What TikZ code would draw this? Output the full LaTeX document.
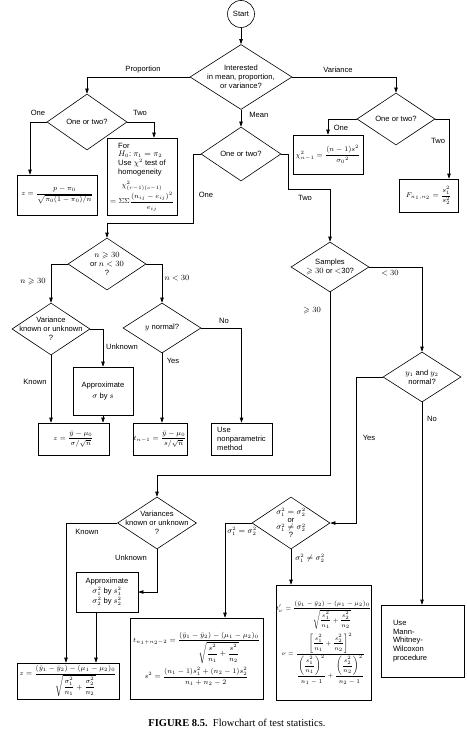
\documentclass[tikz,border=0pt]{standalone}
\usepackage{amsmath,amssymb}
\usepackage{fontspec}
\setmainfont{Liberation Sans}
\newfontfamily\capfont{Liberation Serif}
\usetikzlibrary{shapes.geometric,arrows.meta}
\begin{document}
\begin{tikzpicture}[x=1pt,y=-1pt,line width=0.6pt,
  every node/.style={font=\fontsize{7.6}{8.8}\selectfont},
  dia/.style={diamond,draw,inner sep=0pt,minimum width=78pt,minimum height=52pt},
  dtext/.style={align=center,inner sep=0pt},
  box/.style={draw,inner sep=0pt,align=center},
  lbl/.style={inner sep=0pt},
  arr/.style={-{Triangle[length=5pt,width=3.4pt]}},
  mathf/.style={font=\fontsize{7.2}{8.5}\selectfont},
  smallm/.style={font=\fontsize{6.4}{7.5}\selectfont}]
\useasboundingbox (0,0) rectangle (466,733);

% ---- nodes ----
\node[circle,draw,minimum size=27pt,inner sep=0pt] (start) at (241,14) {Start};
\node[dia,minimum width=102pt,minimum height=65pt] (d0) at (241,77) {};
\node[dtext] (d0t) at (d0) {Interested\\in mean, proportion,\\or variance?};

\node[dia,minimum width=80pt,minimum height=56pt] (dp) at (87,122) {};
\node[dtext] (dpt) at (dp) {One or two?};
\node[dia,minimum width=78pt,minimum height=52pt] (dv) at (396,119) {};
\node[dtext] (dvt) at (dv) {One or two?};
\node[dia,minimum width=80pt,minimum height=54pt] (dm) at (241,154) {};
\node[dtext] (dmt) at (dm) {One or two?};

\node[box,minimum width=80pt,minimum height=40pt,mathf] (zb1) at (57,195)
  {$z=\dfrac{p-\pi_0}{\sqrt{\pi_0(1-\pi_0)/n}}$};
\node[box,minimum width=70pt,minimum height=77pt] (forb) at (142,176.5)
  {\begin{tabular}{@{}l@{}}For\\ $H_0$:\ $\pi_1=\pi_2$\\ Use $\chi^2$ test of\\ homogeneity\end{tabular}\\[3pt]
   {\fontsize{6.6}{8}\selectfont$\chi^2_{(r-1)(c-1)}$}\\[1pt]
   {\fontsize{6.6}{8}\selectfont$=\Sigma\Sigma\dfrac{(n_{ij}-e_{ij})^2}{e_{ij}}$}};
\node[box,minimum width=70pt,minimum height=39pt,mathf] (chib) at (328,154.5)
  {$\chi^2_{n-1}=\dfrac{(n-1)s^2}{\sigma_0{}^2}$};
\node[box,minimum width=59pt,minimum height=33pt,mathf] (Fb) at (428.5,195.5)
  {$F_{n_1,n_2}=\dfrac{s_1^2}{s_2^2}$};

\node[dia] (dn) at (107,264) {};
\node[dtext] (dnt) at (dn) {$n\geqslant 30$\\or $n<30$\\?};
\node[dia] (dvk) at (51,329) {};
\node[dtext] (dvkt) at (dvk) {Variance\\known or unknown\\?};
\node[dia,minimum height=50pt] (dyn) at (162,328) {};
\node[dtext] (dynt) at (dyn) {$y$ normal?};
\node[box,minimum width=60pt,minimum height=48pt] (ap1) at (103,391) {Approximate\\[2pt]$\sigma$ by $s$};
\node[box,minimum width=71pt,minimum height=32pt,mathf] (zb2) at (73.5,439)
  {$z=\dfrac{\bar y-\mu_0}{\sigma/\sqrt{n}}$};
\node[box,minimum width=54pt,minimum height=32pt,mathf] (tb1) at (160,439)
  {$t_{n-1}=\dfrac{\bar y-\mu_0}{s/\sqrt{n}}$};
\node[box,minimum width=61pt,minimum height=32pt,align=left] (ub) at (241.5,439)
  {Use\\nonparametric\\method};

\node[dia,minimum height=50pt] (ds) at (330,267) {};
\node[dtext] (dst) at (ds) {Samples\\$\geqslant 30$ or $<$30?};
\node[dia,minimum height=50pt] (dy) at (422,377) {};
\node[dtext] (dyt) at (dy) {$y_1$ and $y_2$\\normal?};

\node[dia,minimum width=79pt] (dvv) at (157,523) {};
\node[dtext] (dvvt) at (dvv) {Variances\\known or unknown\\?};
\node[dia] (dsig) at (291,523) {};
\node[dtext] (dsigt) at (dsig) {$\sigma_1^2=\sigma_2^2$\\[-1pt]or\\[-1pt]$\sigma_1^2\neq\sigma_2^2$\\[-1pt]?};

\node[box,minimum width=62pt,minimum height=40pt] (ap2) at (107,592)
  {Approximate\\[1pt]$\sigma_1^2$ by $s_1^2$\\[1pt]$\sigma_2^2$ by $s_2^2$};
\node[box,minimum width=102pt,minimum height=36pt,mathf] (z3) at (68,681)
  {$z=\dfrac{(\bar y_1-\bar y_2)-(\mu_1-\mu_2)_0}{\sqrt{\dfrac{\sigma_1^2}{n_1}+\dfrac{\sigma_2^2}{n_2}}}$};
\node[box,minimum width=133pt,minimum height=81pt,mathf] (tb2) at (196.5,658.5)
  {$t_{n_1+n_2-2}=\dfrac{(\bar y_1-\bar y_2)-(\mu_1-\mu_2)_0}{\sqrt{\dfrac{s^2}{n_1}+\dfrac{s^2}{n_2}}}$\\[3pt]
   $s^2=\dfrac{(n_1-1)s_1^2+(n_2-1)s_2^2}{n_1+n_2-2}$};
\node[box,minimum width=87pt,minimum height=115pt,smallm] (tp) at (323.5,642.5)
  {$t'_\nu=\dfrac{(\bar y_1-\bar y_2)-(\mu_1-\mu_2)_0}{\sqrt{\dfrac{s_1^2}{n_1}+\dfrac{s_2^2}{n_2}}}$\\[3pt]
   $\nu=\dfrac{\left[\dfrac{s_1^2}{n_1}+\dfrac{s_2^2}{n_2}\right]^2}{\dfrac{\left(\dfrac{s_1^2}{n_1}\right)^2}{n_1-1}+\dfrac{\left(\dfrac{s_2^2}{n_2}\right)^2}{n_2-1}}$};
\node[box,minimum width=83pt,minimum height=72pt,text width=59pt,align=left] (mann) at (422.5,641)
  {Use\\Mann-\\Whitney-\\Wilcoxon\\procedure};

% ---- landing coordinates ----
\coordinate (zb1in) at ([xshift=-27pt]zb1.north);
\coordinate (forin) at ([xshift=12pt]forb.north);
\coordinate (Fin) at ([xshift=20.5pt]Fb.north);
\coordinate (z3in) at ([xshift=-2pt]z3.north);
\coordinate (ap2out) at ([xshift=-11pt]ap2.south);
\coordinate (tb2in) at ([xshift=28.5pt]tb2.north);

% ---- connectors ----
\draw[arr] (start) -- (d0.north);
\draw[arr] (d0.west) -| (dp.north);
\draw[arr] (d0.east) -| (dv.north);
\draw[arr] (d0.south) -- (dm.north);
\draw[arr] (dp.west) -| (zb1in);
\draw[arr] (dp.east) -| (forin);
\draw[arr] (dv.west) -| (chib.north);
\draw[arr] (dv.east) -| (Fin);
\draw[arr] (dm.west) -- ++(-7,0) |- ([yshift=14pt]dn.north) -- (dn.north);
\draw[arr] (dm.east) -- ++(7,0) -- ++(0,35) -| (ds.north);
\draw[arr] (dn.west) -| (dvk.north);
\draw[arr] (dn.east) -| (dyn.north);
\draw[arr] (dvk.east) -| (ap1.north);
\draw[arr] (dvk.south) -- (dvk.south |- zb2.north);
\draw[arr] (ap1.south) -- (ap1.south |- zb2.north);
\draw[arr] (dyn.south) -- (dyn.south |- tb1.north);
\draw[arr] (dyn.east) -| (ub.north);
\draw[arr] (ds.east) -| (dy.north);
\draw[arr] (ds.south) -- ++(0,183) -| (dvv.north);
\draw[arr] (dy.west) -- ++(-26,0) |- (dsig.east);
\draw[arr] (dy.south) -- (dy.south |- mann.north);
\draw[arr] (dvv.west) -| (z3in);
\draw[arr] (dvv.south) |- (ap2.east);
\draw[arr] (ap2out) -- (ap2out |- z3.north);
\draw[arr] (dsig.west) -| (tb2in);
\draw[arr] (dsig.south) -- (dsig.south |- tp.north);

% ---- labels ----
\node[lbl] (lProp) at (143,70) {Proportion};
\node[lbl] (lVar) at (338,70) {Variance};
\node[lbl,anchor=west] (lMean) at (249,115) {Mean};
\node[lbl] (lpOne) at (38,113) {One};
\node[lbl] (lpTwo) at (140,113) {Two};
\node[lbl] (lvOne) at (341,128) {One};
\node[lbl] (lvTwo) at (438,141) {Two};
\node[lbl] (lmOne) at (206,195) {One};
\node[lbl] (lmTwo) at (305,198) {Two};
\node[lbl] (lnge) at (33,282) {$n\geqslant 30$};
\node[lbl] (lnlt) at (177,278) {$n<30$};
\node[lbl] (lUnk1) at (122,347) {Unknown};
\node[lbl] (lKn1) at (35,382) {Known};
\node[lbl] (lNo1) at (224,321) {No};
\node[lbl] (lYes1) at (173,361) {Yes};
\node[lbl] (lsge) at (312,311) {$\geqslant 30$};
\node[lbl] (lslt) at (390,273) {$<30$};
\node[lbl] (lYes2) at (369,438) {Yes};
\node[lbl] (lNo2) at (432,419) {No};
\node[lbl] (lKn2) at (87,532) {Known};
\node[lbl] (lUnk2) at (131,558) {Unknown};
\node[lbl] (leq) at (242,531) {$\sigma_1^2=\sigma_2^2$};
\node[lbl] (lneq) at (310,558) {$\sigma_1^2\neq\sigma_2^2$};

\node[lbl,font=\capfont\fontsize{10.5}{12}\selectfont] (cap) at (237,723)
  {\textbf{FIGURE 8.5.}\ \ Flowchart of test statistics.};
\end{tikzpicture}
\end{document}
